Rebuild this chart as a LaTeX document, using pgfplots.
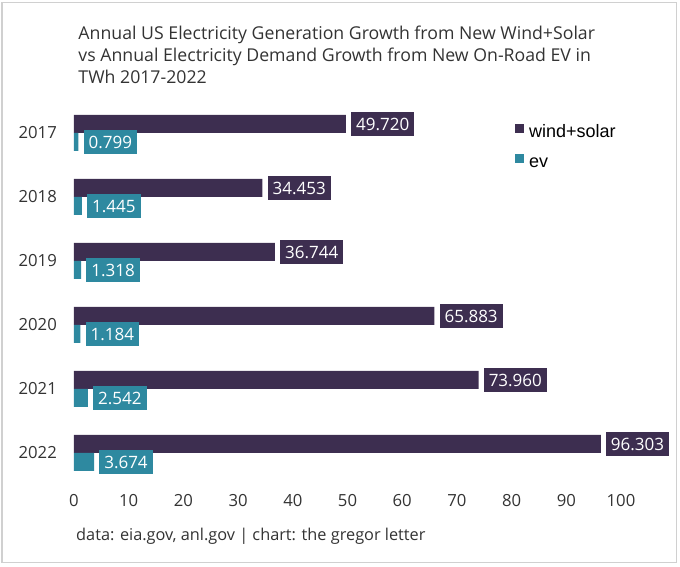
\documentclass[border=0pt]{standalone}
\usepackage{pgfplots}
\pgfplotsset{compat=1.18}
\usepackage{fontspec}
\setmainfont{Open Sans}
\newfontfamily\legfont{Liberation Sans}
\definecolor{wind}{HTML}{3D2E50}
\definecolor{evc}{HTML}{2E89A0}
\definecolor{txt}{HTML}{333333}
\definecolor{framec}{HTML}{D0D0D0}
\begin{document}
\begin{tikzpicture}
\begin{axis}[
  scale only axis, width=547pt, height=384pt,
  xmin=0, xmax=100, ymin=-0.5, ymax=5.5,
  clip=false,
  axis line style={draw=none},
  major tick length=0pt,
  xtick={0,10,...,100},
  ytick={0,...,5},
  yticklabels={2022,2021,2020,2019,2018,2017},
  /pgf/number format/assume math mode=true,
  tick label style={font=\fontsize{16.7}{20}\selectfont, text=txt},
  xticklabel style={anchor=base, inner sep=0pt, yshift=-21.2pt},
  yticklabel style={anchor=base east, inner sep=0pt, xshift=-17pt, yshift=-5.3pt},
  xbar, bar width=18pt,
  point meta=explicit symbolic,
  nodes near coords,
  every node near coord/.append style={anchor=west, xshift=5pt, text=white,
     font=\fontsize{17}{20}\selectfont, inner xsep=5pt, inner ysep=6.25pt,
     text height=12.3pt, text depth=0pt},
  legend image code/.code={\fill[#1] (0pt,0pt) rectangle (9.5pt,9.5pt);},
  legend cell align=left,
  legend style={draw=none, fill=none, inner sep=0pt, outer sep=0pt,
     at={(axis cs:80.57,5.1406)}, anchor=north west,
     column sep=4.8pt, row sep=12pt,
     font=\legfont\fontsize{18}{20}\selectfont,
     nodes={inner sep=0pt, text height=13pt, text depth=4pt, text=black}},
]
\addplot[fill=wind, draw=none, bar shift=9pt, forget plot,
  every node near coord/.append style={fill=wind}]
  coordinates {(49.720,5)[49.720] (34.453,4)[34.453] (36.744,3)[36.744]
               (65.883,2)[65.883] (73.960,1)[73.960] (96.303,0)[96.303]};
\addplot[fill=evc, draw=none, bar shift=-9pt, forget plot,
  every node near coord/.append style={fill=evc}]
  coordinates {(0.799,5)[0.799] (1.445,4)[1.445] (1.318,3)[1.318]
               (1.184,2)[1.184] (2.542,1)[2.542] (3.674,0)[3.674]};
\addlegendimage{fill=wind, draw=none}
\addlegendentry{wind+solar}
\addlegendimage{fill=evc, draw=none}
\addlegendentry{ev}
\node[anchor=base west, inner sep=0pt, text=txt, font=\fontsize{17.7}{20}\selectfont]
  at (axis cs:0.786,6.464) {Annual US Electricity Generation Growth from New Wind+Solar};
\node[anchor=base west, inner sep=0pt, text=txt, font=\fontsize{17.7}{20}\selectfont]
  at (axis cs:0.786,6.114) {vs Annual Electricity Demand Growth from New On-Road EV in};
\node[anchor=base west, inner sep=0pt, text=txt, font=\fontsize{17.7}{20}\selectfont]
  at (axis cs:0.786,5.766) {TWh 2017-2022};
\node[anchor=base west, inner sep=0pt, text=txt, font=\fontsize{16.3}{18}\selectfont]
  at (axis cs:0.366,-1.367) {data: eia.gov, anl.gov | chart: the gregor letter};
\draw[framec, line width=1.5pt] (axis cs:-13.163,-1.711) rectangle (axis cs:110.146,7.039);
\coordinate (BL) at (axis cs:-13.528,-1.781);
\coordinate (TR) at (axis cs:110.786,7.078);
\end{axis}
\pgfresetboundingbox
\useasboundingbox (BL) rectangle (TR);
\end{tikzpicture}
\end{document}
